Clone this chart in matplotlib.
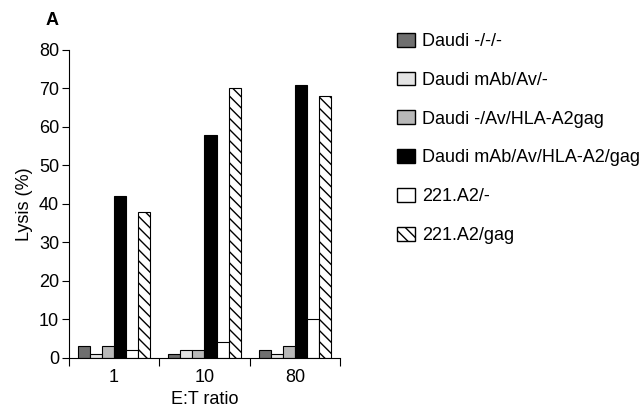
import numpy as np
import matplotlib
matplotlib.use("Agg")
import matplotlib.pyplot as plt
from matplotlib.patches import Patch

plt.rcParams["font.family"] = ["Liberation Sans", "DejaVu Sans"]
plt.rcParams["hatch.linewidth"] = 1.0

ratios = ["1", "10", "80"]
series_names = [
    "Daudi -/-/-",
    "Daudi mAb/Av/-",
    "Daudi -/Av/HLA-A2gag",
    "Daudi mAb/Av/HLA-A2/gag",
    "221.A2/-",
    "221.A2/gag",
]
daudi_none = [3, 1, 2]
daudi_mab_av = [1, 2, 1]
daudi_av_gag = [3, 2, 3]
daudi_mab_av_gag = [42, 58, 71]
a2_none = [2, 4, 10]
a2_gag = [38, 70, 68]

series = [daudi_none, daudi_mab_av, daudi_av_gag, daudi_mab_av_gag, a2_none, a2_gag]
colors = ["#6f6f6f", "#e4e4e4", "#b8b8b8", "#000000", "#ffffff", "#ffffff"]
hatches = [None, None, None, None, None, "\\\\\\"]

fs = 13

fig = plt.figure(figsize=(6.44, 4.09), dpi=100)
ax = fig.add_axes([0.107, 0.125, 0.421, 0.753])

n = len(series)
width = 0.8 / n
centers = np.arange(len(ratios)) + 0.5
for k, vals in enumerate(series):
    x = centers - 0.4 + width * (k + 0.5)
    ax.bar(x, vals, width=width, color=colors[k], edgecolor="black",
           linewidth=0.8, hatch=hatches[k], zorder=2)

ax.set_xlim(0, 3)
ax.set_ylim(0, 80)
ax.set_yticks(np.arange(0, 81, 10))
ax.set_xticks([0, 1, 2, 3])
ax.set_xticklabels([])
ax.set_xticks(centers, minor=True)
ax.set_xticklabels(ratios, minor=True)
ax.tick_params(axis="x", which="minor", length=0, labelsize=fs, pad=8)
ax.tick_params(axis="x", which="major", direction="out", length=6)
ax.tick_params(axis="y", direction="out", length=5, labelsize=fs, pad=2)
ax.spines["top"].set_visible(False)
ax.spines["right"].set_visible(False)
ax.set_xlabel("E:T ratio", fontsize=fs, labelpad=3.5)
ax.set_ylabel("Lysis (%)", fontsize=fs, labelpad=4)

fig.text(0.070, 0.939, "A", fontsize=fs, fontweight="bold")

handles = [Patch(facecolor=colors[k], edgecolor="black", hatch=hatches[k])
           for k in range(n)]
fig.legend(handles, series_names, loc="upper left",
           bbox_to_anchor=(0.616, 0.92), frameon=False, fontsize=fs,
           handlelength=1.0, handleheight=0.8, handletextpad=0.4,
           labelspacing=1.2, borderaxespad=0, borderpad=0)

fig.savefig("out.png", dpi=100)
